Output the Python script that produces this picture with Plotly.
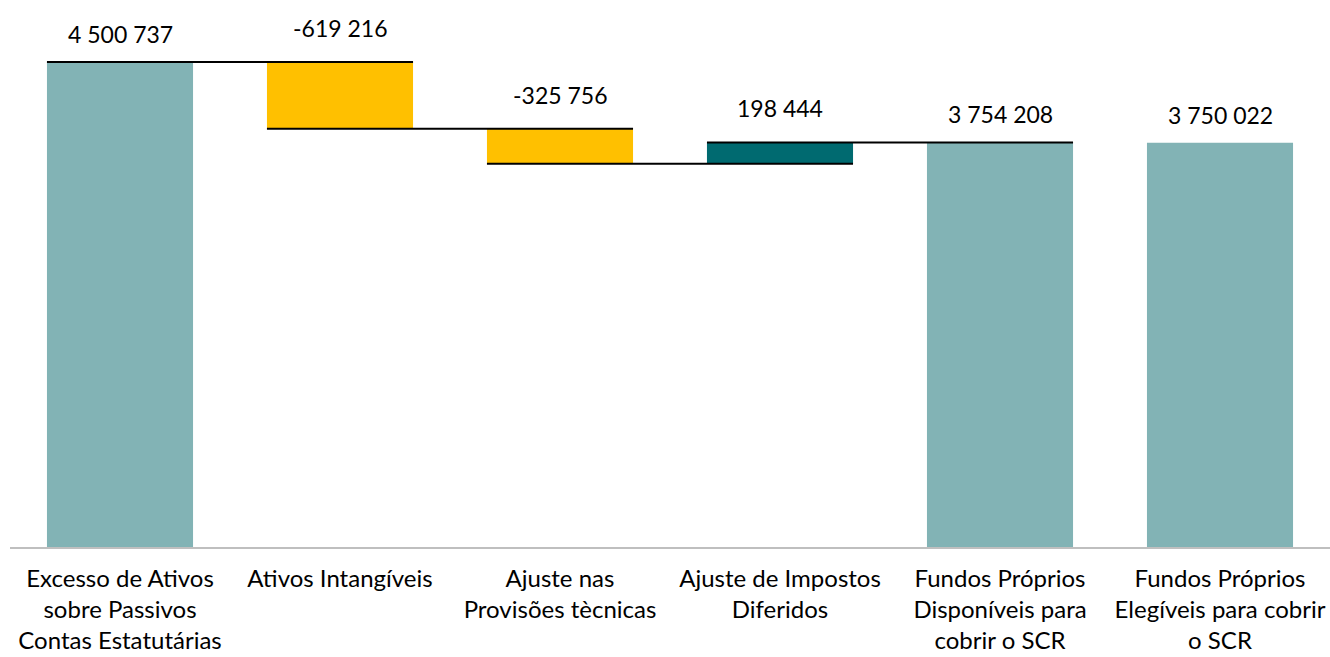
import plotly.graph_objects as go

# Categories (x axis labels) and values
categories = [
    "Excesso de Ativos<br>sobre Passivos<br>Contas Estatutárias",
    "Ativos Intangíveis",
    "Ajuste nas<br>Provisões tècnicas",
    "Ajuste de Impostos<br>Diferidos",
    "Fundos Próprios<br>Disponíveis para<br>cobrir o SCR",
    "Fundos Próprios<br>Elegíveis para cobrir<br>o SCR",
]
values = [4500737, -619216, -325756, 198444, 3754208, 3750022]
measures = ["absolute", "relative", "relative", "relative", "total", "absolute"]

TOTAL_COLOR = "#82B3B5"
DECREASE_COLOR = "#FFC000"
INCREASE_COLOR = "#006A70"
FONT = "Lato"
BAR_WIDTH = 0.664


def fmt(v):
    s = f"{abs(v):,}".replace(",", " ")
    return ("-" if v < 0 else "") + s


fig = go.Figure()

# main chain (first five bars)
fig.add_trace(go.Waterfall(
    x=categories[:5],
    y=values[:5],
    measure=measures[:5],
    totals=dict(marker=dict(color=TOTAL_COLOR)),
    increasing=dict(marker=dict(color=INCREASE_COLOR)),
    decreasing=dict(marker=dict(color=DECREASE_COLOR)),
    connector=dict(visible=False),
    hoverinfo="skip",
    showlegend=False,
))
# last bar stands alone (no connector)
fig.add_trace(go.Waterfall(
    x=categories[5:],
    y=values[5:],
    measure=measures[5:],
    totals=dict(marker=dict(color=TOTAL_COLOR)),
    increasing=dict(marker=dict(color=TOTAL_COLOR)),
    decreasing=dict(marker=dict(color=TOTAL_COLOR)),
    connector=dict(visible=False),
    hoverinfo="skip",
    showlegend=False,
))

# running levels, connectors and labels
level = 0
tops = []
ends = []
for v, m in zip(values, measures):
    if m == "relative":
        start, level = level, level + v
    else:
        start, level = 0, v
    tops.append(max(start, level))
    ends.append(level)

half = BAR_WIDTH / 2
for i in range(4):
    fig.add_shape(
        type="line", xref="x", yref="y",
        x0=i - half, x1=i + 1 + half, y0=ends[i], y1=ends[i],
        line=dict(color="black", width=2),
    )

for i, (cat, v, m) in enumerate(zip(categories, values, measures)):
    fig.add_annotation(
        x=cat, y=tops[i], text=fmt(v), showarrow=False,
        yanchor="bottom", yshift=18 if m == "relative" else 12,
        font=dict(family=FONT, size=23, color="#000000"),
    )

fig.update_layout(
    width=1330,
    height=657,
    margin=dict(l=10, r=0, t=10, b=110),
    paper_bgcolor="white",
    plot_bgcolor="white",
    waterfallmode="overlay",
    waterfallgap=1 - BAR_WIDTH,
    font=dict(family=FONT, size=24, color="#000000"),
    xaxis=dict(
        showline=True, linecolor="#BFBFBF", linewidth=1.5,
        showgrid=False, ticks="", tickfont=dict(size=24),
        ticklabelstandoff=9, automargin=False,
        categoryorder="array", categoryarray=categories,
    ),
    yaxis=dict(visible=False, range=[0, 4983000]),
)

# drop the default page margin so the figure fills the window exactly
fig.write_html(
    "out.html",
    config={"displayModeBar": False},
    post_script="document.body.style.margin='0';document.body.style.overflow='hidden';",
)
